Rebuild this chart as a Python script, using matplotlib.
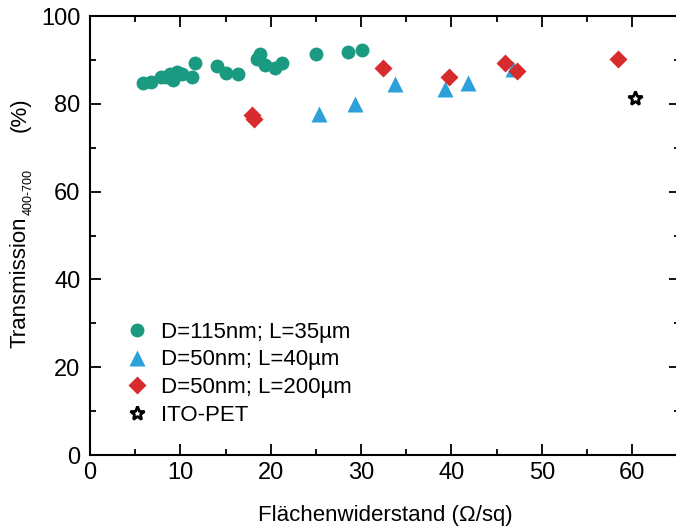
import matplotlib.pyplot as plt
from matplotlib.ticker import MultipleLocator

plt.rcParams['font.family'] = ['Liberation Sans', 'DejaVu Sans']

# D=115nm; L=35um
x115 = [5.9, 6.8, 7.9, 8.4, 8.9, 9.2, 9.6, 10.2, 11.3, 11.6, 14.0, 15.0, 16.4,
        18.5, 18.8, 19.4, 20.5, 21.2, 25.0, 28.5, 30.1]
y115 = [84.7, 84.9, 86.2, 86.0, 86.9, 85.4, 87.2, 86.8, 86.2, 89.4, 88.6, 87.1, 86.7,
        90.3, 91.3, 88.8, 88.1, 89.4, 91.3, 91.7, 92.3]
# D=50nm; L=40um
x40 = [25.3, 29.3, 33.8, 39.3, 41.8, 46.8]
y40 = [77.7, 80.0, 84.4, 83.3, 84.8, 87.9]
# D=50nm; L=200um
x200 = [17.9, 18.1, 32.4, 39.7, 45.9, 47.3, 58.4]
y200 = [77.4, 76.6, 88.2, 86.0, 89.2, 87.5, 90.2]
# ITO-PET
xito = [60.3]
yito = [81.3]

W, H = 676, 530
fig = plt.figure(figsize=(W / 100, H / 100), dpi=100)
ax = fig.add_axes([0.1331, 0.1415, 0.873, 0.8283])

ax.plot(x115, y115, 'o', color='#1b9a82', ms=10, mec='none', label='D=115nm; L=35µm')
ax.plot(x40, y40, '^', color='#2ba0db', ms=12, mec='none', label='D=50nm; L=40µm')
ax.plot(x200, y200, 'D', color='#d82b2d', ms=9, mec='none', label='D=50nm; L=200µm')
ax.plot(xito, yito, '*', mfc='white', mec='black', mew=2, ms=10, label='ITO-PET')

ax.set_xlim(0, 65.3)
ax.set_ylim(0, 100)
ax.xaxis.set_major_locator(MultipleLocator(10))
ax.xaxis.set_minor_locator(MultipleLocator(5))
ax.yaxis.set_major_locator(MultipleLocator(20))
ax.yaxis.set_minor_locator(MultipleLocator(10))
ax.tick_params(which='both', direction='in', top=True, right=True, labelsize=17, width=1.3)
ax.tick_params(which='major', length=8)
ax.tick_params(which='minor', length=4)
ax.tick_params(axis='x', pad=5)
ax.tick_params(axis='y', pad=7)
for s in ax.spines.values():
    s.set_linewidth(1.5)

ax.set_xlabel('Flächenwiderstand (Ω/sq)', fontsize=16, labelpad=15)

# y label built from pieces so the subscript can be small
kw = dict(rotation=90, rotation_mode='anchor', ha='left', va='baseline')
fig.text(26 / W, 1 - 348 / H, 'Transmission', fontsize=16, **kw)
fig.text(32 / W, 1 - 215 / H, '400-700', fontsize=9, **kw)
fig.text(26 / W, 1 - 132 / H, '(%)', fontsize=16, **kw)

ax.legend(loc='lower left', bbox_to_anchor=(0.008, 0.021), frameon=False, fontsize=16,
          handletextpad=0.07, labelspacing=0.3, borderaxespad=0.5)

fig.savefig('out.png', dpi=100)
